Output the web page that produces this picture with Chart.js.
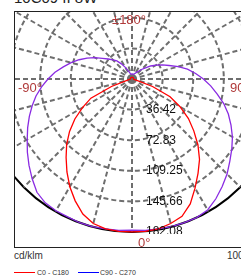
<!DOCTYPE html>
<html>
<head>
<meta charset="utf-8">
<script src="https://cdn.jsdelivr.net/npm/chart.js@4.4.0/dist/chart.umd.min.js"></script>
<style>
  html, body { margin: 0; padding: 0; width: 241px; height: 276px; overflow: hidden; background: #fff; }
  body { position: relative; font-family: "Liberation Sans", Arial, sans-serif; }
  #title { position: absolute; left: 14px; top: -11px; font-size: 15px; line-height: 17px; color: #222; white-space: nowrap; }
  #frame { position: absolute; left: 14px; top: 11px; width: 240px; height: 235px; border: 1px solid #222; overflow: hidden; }
  #frame canvas { position: absolute; left: -38px; top: -88px; }
  .ang { position: absolute; color: #b03a3a; font-size: 13px; line-height: 15px; white-space: nowrap; }
  .foot { position: absolute; color: #333; font-size: 10px; line-height: 12px; white-space: nowrap; }
  .leg { position: absolute; color: #333; font-size: 7px; line-height: 8px; white-space: nowrap; }
  .swatch { position: absolute; height: 1px; width: 21px; }
</style>
</head>
<body>
<div id="title">10C09 II 8W</div>
<div id="frame"><canvas id="polarChart" width="310" height="310"></canvas></div>
<span class="ang" style="left:112px; top:12px;">±180°</span>
<span class="ang" style="left:18px; top:80px;">-90°</span>
<span class="ang" style="left:230px; top:80px;">90°</span>
<span class="ang" style="left:138px; top:235px;">0°</span>
<span class="foot" style="left:14px; top:250px;">cd/klm</span>
<span class="foot" style="left:227px; top:250px;">100</span>
<div class="swatch" style="left:14px; top:272px; background:#ff0000;"></div>
<span class="leg" style="left:37px; top:269px;">C0 - C180</span>
<div class="swatch" style="left:78px; top:272px; background:#0000ff;"></div>
<span class="leg" style="left:100px; top:269px;">C90 - C270</span>
<script>
// gamma angles 0..180 in 5 degree steps, one list per half plane
const gammaAngles = [0, 5, 10, 15, 20, 25, 30, 35, 40, 45, 50, 55, 60, 65, 70, 75, 80, 85, 90,
    95, 100, 105, 110, 115, 120, 125, 130, 135, 140, 145, 150, 155, 160, 165, 170, 175, 180];

// C0 - C180 (red), left half (towards -90) and right half (towards 90)
const redLeft = [182, 182, 181, 178, 171, 160, 148, 135, 122, 110, 97, 83, 68, 54, 26, 7, 3, 2, 2,
    2, 2, 2, 2, 2, 2, 2, 2, 2, 2, 2, 2, 2, 2, 2, 2, 2, 2];
const redRight = [182, 182, 181, 178, 174, 164, 150, 137, 125, 111, 96, 82, 66, 50, 26, 6, 2, 2, 2,
    2, 2, 2, 2, 2, 2, 2, 2, 2, 2, 2, 2, 2, 2, 2, 2, 2, 2];

// C90 - C270 (purple)
const purpleLeft = [180, 181, 181, 182, 182, 181, 181, 180, 176, 168, 160, 152, 144, 137, 130, 123, 116, 108, 100,
    92, 83, 75, 67, 59, 51, 43, 37, 32, 28, 22, 16, 11, 8, 6, 6, 6, 6];
const purpleRight = [180, 181, 181, 182, 182, 182, 180, 174, 167, 160, 152, 145, 138, 130, 122, 113, 103, 94, 85,
    76, 67, 57, 47, 40, 33, 27, 20, 16, 12, 10, 8, 7, 6, 6, 6, 6, 6];

// ring values printed along the 0 degree axis
const ringValues = [36.42, 72.83, 109.25, 145.66, 182.08];
const ringLabels = ['36.42', '72.83', '109.25', '145.66', '182.08'];

// radar goes clockwise from startAngle: 0 -> left side -> 180 -> right side
function fullCircle(left, right) {
    const out = left.slice();
    for (let i = right.length - 2; i >= 1; i--) out.push(right[i]);
    return out;
}
const circleLabels = [];
for (let i = 0; i < 72; i++) circleLabels.push(String(i * 5));

const maxValue = ringValues[ringValues.length - 1];

const ringLabelPlugin = {
    id: 'ringLabels',
    afterDraw(chart) {
        const s = chart.scales.r;
        const ctx = chart.ctx;
        ctx.save();
        ctx.font = '12px "Liberation Sans", Arial, sans-serif';
        ctx.fillStyle = '#111';
        ctx.textAlign = 'left';
        ctx.textBaseline = 'middle';
        ringValues.forEach((v, i) => {
            const d = s.getDistanceFromCenterForValue(v);
            ctx.fillText(ringLabels[i], s.xCenter + 14, s.yCenter + d);
        });
        ctx.restore();
    }
};

document.addEventListener('DOMContentLoaded', function() {
    if (typeof Chart === 'undefined') {
        console.error('Chart.js not loaded');
        return;
    }
    new Chart(document.getElementById('polarChart'), {
        type: 'radar',
        data: {
            labels: circleLabels,
            datasets: [
                {
                    label: 'C0 - C180',
                    data: fullCircle(redLeft, redRight),
                    borderColor: '#ff0000',
                    borderWidth: 1.3,
                    pointRadius: 0,
                    fill: false,
                    tension: 0
                },
                {
                    label: 'C90 - C270',
                    data: fullCircle(purpleLeft, purpleRight),
                    borderColor: '#8a2be2',
                    borderWidth: 1.3,
                    pointRadius: 0,
                    fill: false,
                    tension: 0
                }
            ]
        },
        options: {
            responsive: false,
            animation: false,
            layout: { padding: 2 },
            plugins: {
                legend: { display: false },
                tooltip: { enabled: false }
            },
            scales: {
                r: {
                    min: 0,
                    max: maxValue,
                    startAngle: 180,
                    afterBuildTicks: function(scale) {
                        scale.ticks = [0].concat(ringValues).map(v => ({ value: v }));
                    },
                    ticks: { display: false },
                    pointLabels: { display: false },
                    grid: {
                        circular: true,
                        color: ctx => (ctx.tick && ctx.tick.value >= maxValue) ? '#000' : '#6e6e6e',
                        lineWidth: 2
                    },
                    border: {
                        dash: ctx => (ctx.tick && ctx.tick.value >= maxValue) ? [] : [5, 3]
                    },
                    angleLines: {
                        color: '#6e6e6e',
                        lineWidth: ctx => (ctx.index % 3 === 0 ? 2 : 0),
                        borderDash: [5, 3]
                    }
                }
            }
        },
        plugins: [ringLabelPlugin]
    });
});
</script>
</body>
</html>
